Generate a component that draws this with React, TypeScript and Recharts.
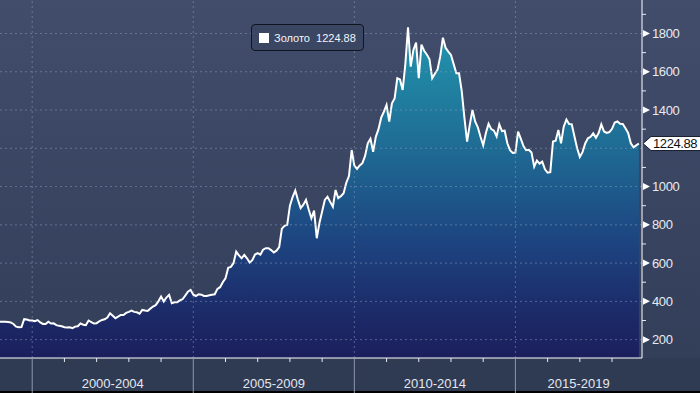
import React from "react";
import { AreaChart, Area, XAxis, YAxis, ReferenceLine, Legend } from "recharts";

// monthly gold price, Jan 1999 .. Nov 2018
const START_YEAR = 1999;
const gold1999 = [294, 294, 294, 292, 290, 282, 268, 265, 266, 307, 305, 300];
const gold2000 = [300, 296, 302, 290, 282, 282, 294, 284, 285, 276, 272, 270];
const gold2001 = [265, 263, 265, 260, 268, 270, 285, 278, 276, 300, 292, 284];
const gold2002 = [286, 296, 303, 306, 315, 338, 325, 312, 320, 329, 329, 340];
const gold2003 = [345, 352, 345, 343, 335, 355, 352, 350, 362, 373, 380, 400];
const gold2004 = [425, 399, 420, 434, 390, 395, 395, 405, 411, 430, 451, 460];
const gold2005 = [435, 428, 437, 435, 428, 428, 432, 435, 437, 465, 474, 500];
const gold2006 = [520, 575, 580, 600, 660, 640, 625, 643, 625, 603, 615, 645];
const gold2007 = [652, 644, 670, 678, 678, 668, 655, 665, 683, 780, 795, 800];
const gold2008 = [900, 945, 979, 930, 887, 905, 930, 880, 834, 874, 730, 810];
const gold2009 = [870, 930, 947, 920, 895, 982, 940, 950, 965, 1020, 1055, 1191];
const gold2010 = [1110, 1092, 1110, 1122, 1160, 1226, 1250, 1182, 1260, 1300, 1360, 1391];
const gold2011 = [1426, 1339, 1435, 1460, 1566, 1560, 1505, 1640, 1832, 1627, 1714, 1752];
const gold2012 = [1566, 1742, 1710, 1690, 1665, 1566, 1590, 1612, 1680, 1778, 1725, 1705];
const gold2013 = [1688, 1640, 1592, 1592, 1500, 1360, 1235, 1322, 1400, 1340, 1310, 1260];
const gold2014 = [1215, 1280, 1328, 1300, 1292, 1262, 1325, 1290, 1292, 1226, 1190, 1176];
const gold2015 = [1178, 1287, 1250, 1212, 1190, 1192, 1178, 1104, 1136, 1120, 1130, 1090];
const gold2016 = [1073, 1075, 1235, 1240, 1296, 1226, 1313, 1350, 1327, 1325, 1262, 1200];
const gold2017 = [1155, 1180, 1225, 1252, 1260, 1278, 1255, 1280, 1325, 1288, 1280, 1285];
const gold2018 = [1302, 1335, 1340, 1328, 1327, 1305, 1280, 1226, 1205, 1215, 1224.88];

const goldByYear = [
  gold1999, gold2000, gold2001, gold2002, gold2003, gold2004, gold2005,
  gold2006, gold2007, gold2008, gold2009, gold2010, gold2011, gold2012,
  gold2013, gold2014, gold2015, gold2016, gold2017, gold2018,
];

const SERIES_NAME = "Золото";
const LAST_PRICE = 1224.88;

const priceTicks = [200, 300, 400, 500, 600, 700, 800, 900, 1000, 1100, 1200, 1300, 1400, 1500, 1600, 1700, 1800, 1900];
const priceGrid = [200, 400, 600, 800, 1000, 1200, 1400, 1600, 1800];
const periodStarts = [2000, 2005, 2010, 2015];
const periodLabels = ["2000-2004", "2005-2009", "2010-2014", "2015-2019"];
const yearTicks = [2000, 2001, 2002, 2003, 2004, 2005, 2006, 2007, 2008, 2009, 2010, 2011, 2012, 2013, 2014, 2015, 2016, 2017, 2018];

const X_MIN = 1999;
const X_MAX = 2018.93;
const Y_MIN = 104;
const Y_MAX = 1975;

const data = goldByYear.flatMap((vals, yi) =>
  vals.map((price, m) => ({ t: START_YEAR + yi + m / 12, price }))
);

const labelCenters = periodStarts.map((s) => (s + Math.min(s + 5, X_MAX)) / 2);
const xTicks = [...yearTicks, ...labelCenters].sort((a, b) => a - b);

const FONT = "'Liberation Sans', Arial, sans-serif";
const GRID = "rgba(140, 162, 196, 0.5)";

function PeriodTick(props: any) {
  const { x, y, payload } = props;
  const v = payload.value;
  const li = labelCenters.indexOf(v);
  if (li >= 0) {
    return (
      <text x={x} y={y + 30} textAnchor="middle" fill="#e4e7ee" fontSize={13} fontFamily={FONT}>
        {periodLabels[li]}
      </text>
    );
  }
  if (v % 5 === 0) {
    return <line x1={x} x2={x} y1={y} y2={y + 35} stroke="#8e97aa" strokeWidth={1} />;
  }
  return <line x1={x} x2={x} y1={y} y2={y + 4} stroke="#e8ebf0" strokeWidth={1} />;
}

function PriceTick(props: any) {
  const { x, y, payload } = props;
  const v = payload.value;
  if (v % 200 !== 0) {
    return <line x1={x} x2={x + 4} y1={y} y2={y} stroke="#e8ebf0" strokeWidth={1} />;
  }
  // the last-price tag sits on top of this label in the original
  if (Math.abs(v - LAST_PRICE) < 60) return <g />;
  return (
    <g>
      <polygon points={`${x + 1},${y - 3.5} ${x + 1},${y + 3.5} ${x + 8},${y}`} fill="#ffffff" />
      <text x={x + 10} y={y + 4.6} fill="#e8ebf0" fontSize={13} letterSpacing={-0.4} fontFamily={FONT}>
        {v}
      </text>
    </g>
  );
}

function LastPriceLabel(props: any) {
  const { viewBox } = props;
  const x0 = viewBox.x + viewBox.width + 1;
  const yc = viewBox.y;
  const pts = `${x0},${yc} ${x0 + 8},${yc - 7} ${x0 + 62},${yc - 7} ${x0 + 62},${yc + 7} ${x0 + 8},${yc + 7}`;
  return (
    <g>
      <polygon points={pts} fill="#ffffff" stroke="#1a1f2e" strokeWidth={1} />
      <text x={x0 + 10} y={yc + 4.6} fill="#111" fontSize={13} letterSpacing={-0.4} fontFamily={FONT}>
        {LAST_PRICE.toFixed(2)}
      </text>
    </g>
  );
}

function LegendBox() {
  return (
    <div
      style={{
        display: "flex",
        alignItems: "center",
        height: 25,
        padding: "0 7px",
        border: "1px solid #10141f",
        borderRadius: 4,
        background: "#3a4662",
        fontFamily: FONT,
        fontSize: 11,
        color: "#f2f4f8",
        whiteSpace: "pre",
      }}
    >
      <span style={{ width: 10, height: 10, background: "#fff", marginRight: 5 }} />
      {`${SERIES_NAME}  ${LAST_PRICE.toFixed(2)}`}
    </div>
  );
}

export default function App() {
  return (
    <div
      style={{
        width: 700,
        height: 393,
        position: "relative",
        background:
          "linear-gradient(to bottom, #414d6b 0px, #333e59 358px, #2f3a53 358px, #2f3a53 391px, #000 391px)",
      }}
    >
      <style>{"body{margin:0}"}</style>
      <AreaChart width={700} height={393} data={data} margin={{ top: 0, right: 0, bottom: 0, left: 0 }}>
        <defs>
          <linearGradient id="goldFill" x1="0" y1="0" x2="0" y2="1">
            <stop offset="0%" stopColor="#2296ae" />
            <stop offset="35%" stopColor="#1f6d95" />
            <stop offset="65%" stopColor="#1d4480" />
            <stop offset="85%" stopColor="#1c2c6a" />
            <stop offset="100%" stopColor="#1b1f5c" />
          </linearGradient>
        </defs>
        <XAxis
          dataKey="t"
          type="number"
          domain={[X_MIN, X_MAX]}
          allowDataOverflow
          ticks={xTicks}
          interval={0}
          height={35}
          tickSize={0}
          tickMargin={0}
          tickLine={false}
          axisLine={{ stroke: "#ffffff", strokeWidth: 1 }}
          tick={<PeriodTick />}
        />
        <YAxis
          orientation="right"
          type="number"
          domain={[Y_MIN, Y_MAX]}
          allowDataOverflow
          ticks={priceTicks}
          interval={0}
          width={58}
          tickSize={0}
          tickMargin={0}
          tickLine={false}
          axisLine={{ stroke: "#ffffff", strokeWidth: 1 }}
          tick={<PriceTick />}
        />
        <Legend
          layout="horizontal"
          verticalAlign="middle"
          align="center"
          wrapperStyle={{ top: 24, left: 251, width: "auto", height: "auto" }}
          content={() => <LegendBox />}
        />
        <Area
          type="linear"
          dataKey="price"
          name={SERIES_NAME}
          stroke="#ffffff"
          strokeWidth={2}
          fill="url(#goldFill)"
          fillOpacity={1}
          dot={false}
          activeDot={false}
          isAnimationActive={false}
        />
        {priceGrid.map((v) => (
          <ReferenceLine key={`h${v}`} y={v} stroke={GRID} strokeDasharray="2 3" />
        ))}
        {periodStarts.map((v) => (
          <ReferenceLine key={`v${v}`} x={v} stroke={GRID} strokeDasharray="2 3" />
        ))}
        <ReferenceLine y={LAST_PRICE} stroke="none" label={<LastPriceLabel />} />
      </AreaChart>
    </div>
  );
}
